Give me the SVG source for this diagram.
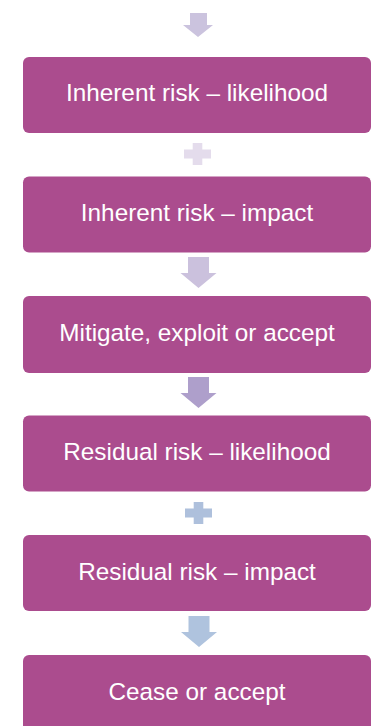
<svg xmlns="http://www.w3.org/2000/svg" width="374" height="726" viewBox="0 0 374 726">
<style>
.box{fill:#AB4C8E;}
.lbl{fill:#FFFFFF;font-family:"Liberation Sans",Arial,sans-serif;font-size:24.3px;text-anchor:middle;}
</style>
<defs>
<path id="arrowBig" d="M-10.5 0 H10.5 V16 H18 L0 31 L-18 16 H-10.5 Z"/>
<path id="plus" d="M-4.8 0 H4.8 V6.5 H13.5 V15.5 H4.8 V22 H-4.8 V15.5 H-13.5 V6.5 H-4.8 Z"/>
</defs>
<rect width="374" height="726" fill="#FFFFFF"/>
<g id="connectors">
<path d="M190 13 H207 V25 H213 L198 37 L183 25 H190 Z" fill="#CBC3DE"/>
<use href="#plus" x="197.5" y="143" fill="#E4DCEC"/>
<use href="#arrowBig" x="198.5" y="257" fill="#CBC1DD"/>
<use href="#arrowBig" x="198.5" y="377" fill="#AE9FCB"/>
<use href="#plus" x="198.5" y="502" fill="#AEC0DC"/>
<use href="#arrowBig" x="199" y="616" fill="#AFC3DE"/>
</g>
<g id="n1"><rect class="box" x="23" y="57" width="348" height="76" rx="6"/><text class="lbl" x="197" y="101">Inherent risk – likelihood</text></g>
<g id="n2"><rect class="box" x="23" y="176.5" width="348" height="76" rx="6"/><text class="lbl" x="197" y="221">Inherent risk – impact</text></g>
<g id="n3"><rect class="box" x="23" y="296" width="348" height="77" rx="6"/><text class="lbl" x="197" y="340.5">Mitigate, exploit or accept</text></g>
<g id="n4"><rect class="box" x="23" y="415.5" width="348" height="76" rx="6"/><text class="lbl" x="197" y="460">Residual risk – likelihood</text></g>
<g id="n5"><rect class="box" x="23" y="535" width="348" height="76" rx="6"/><text class="lbl" x="197" y="580">Residual risk – impact</text></g>
<g id="n6"><rect class="box" x="23" y="655" width="348" height="80" rx="6"/><text class="lbl" x="197" y="700">Cease or accept</text></g>
</svg>
